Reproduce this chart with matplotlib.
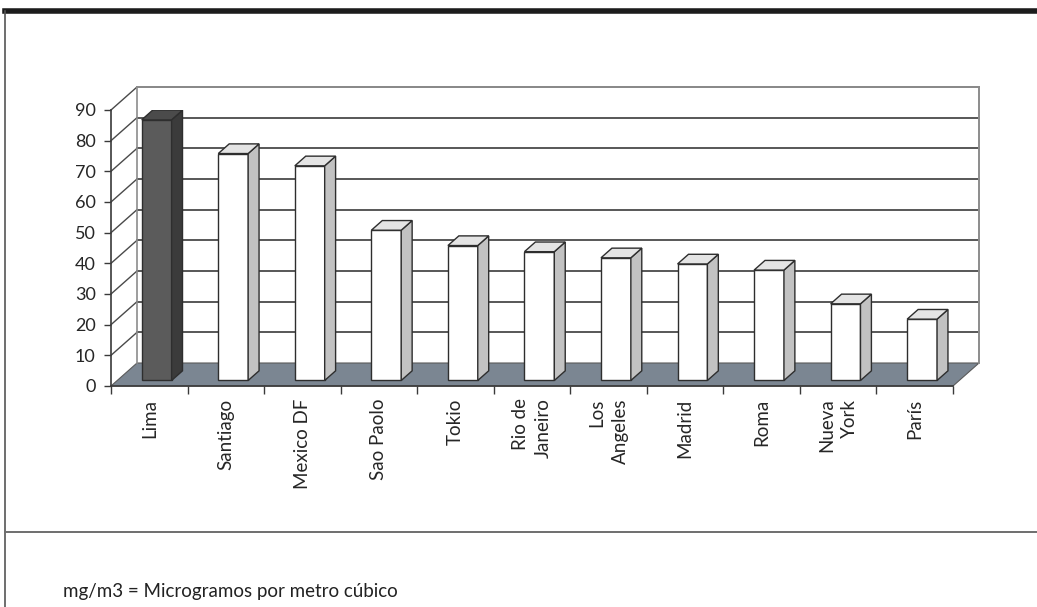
import matplotlib
matplotlib.use("Agg")
import matplotlib.pyplot as plt
from matplotlib.patches import Polygon
from matplotlib.lines import Line2D

# ---- data ----
cities = ["Lima", "Santiago", "Mexico DF", "Sao Paolo", "Tokio", "Rio de\nJaneiro",
          "Los\nAngeles", "Madrid", "Roma", "Nueva\nYork", "París"]
values = [85, 74, 70, 49, 44, 42, 40, 38, 36, 25, 20]
yticks = [0, 10, 20, 30, 40, 50, 60, 70, 80, 90]
note = "mg/m3 = Microgramos por metro cúbico"

FONT = ["Lato", "DejaVu Sans"]
plt.rcParams["font.family"] = FONT

W, H = 1037, 607
fig = plt.figure(figsize=(W / 100, H / 100), dpi=100)

# axes placement (front plane of the 3-D box)
x0, x1 = 111, 953
y0, y1 = 386, 110
ax = fig.add_axes([x0 / W, (H - y0) / H, (x1 - x0) / W, (y0 - y1) / H])
n = len(cities)
ymax = 90
ax.set_xlim(0, n)
ax.set_ylim(0, ymax)
ax.set_facecolor("none")

# depth offsets in data units
DX = 26 / (x1 - x0) * n
DY = 23 / (y0 - y1) * ymax

grid_c = "#4a4a4a"
wall_c = "#8c8c8c"
floor_c = "#7b8692"

# floor
ax.add_patch(Polygon([(0, 0), (n, 0), (n + DX, DY), (DX, DY)], closed=True,
                     facecolor=floor_c, edgecolor="#5a5a5a", lw=0.8, zorder=1,
                     clip_on=False))

# back wall gridlines and side-wall diagonals
for t in yticks[1:]:
    ax.add_line(Line2D([DX, n + DX], [t + DY, t + DY], color=grid_c, lw=1.3,
                       zorder=2, clip_on=False))
    ax.add_line(Line2D([0, DX], [t, t + DY], color=grid_c, lw=1.0, zorder=2,
                       clip_on=False))
# back wall border
ax.add_line(Line2D([DX, DX], [DY, ymax + DY], color=wall_c, lw=1.2, zorder=2, clip_on=False))
ax.add_line(Line2D([n + DX, n + DX], [DY, ymax + DY], color=wall_c, lw=1.4, zorder=2, clip_on=False))
ax.add_line(Line2D([DX, n + DX], [ymax + DY, ymax + DY], color=wall_c, lw=1.4, zorder=2, clip_on=False))

# bars
f0 = 0.24      # depth position of bar front face
fd = 0.42      # bar depth fraction
left = 0.32    # bar left within slot
bw = 0.39      # bar width
for i, v in enumerate(values):
    if i == 0:
        front, side, top = "#5b5b5b", "#3b3b3b", "#4b4b4b"
    else:
        front, side, top = "#ffffff", "#c2c2c2", "#e4e4e4"
    bx = i + left + f0 * DX
    by = f0 * DY
    ox, oy = fd * DX, fd * DY
    ec = "#2e2e2e"
    ax.add_patch(Polygon([(bx, by), (bx + bw, by), (bx + bw, by + v), (bx, by + v)],
                         facecolor=front, edgecolor=ec, lw=1.0, zorder=5))
    ax.add_patch(Polygon([(bx + bw, by), (bx + bw + ox, by + oy),
                          (bx + bw + ox, by + v + oy), (bx + bw, by + v)],
                         facecolor=side, edgecolor=ec, lw=1.0, zorder=5))
    ax.add_patch(Polygon([(bx, by + v), (bx + bw, by + v), (bx + bw + ox, by + v + oy),
                          (bx + ox, by + v + oy)],
                         facecolor=top, edgecolor=ec, lw=1.0, zorder=5))

# axes styling
for s in ["top", "right"]:
    ax.spines[s].set_visible(False)
ax.spines["left"].set_color("#3a3a3a")
ax.spines["bottom"].set_color("#3a3a3a")
ax.spines["left"].set_linewidth(1.2)
ax.spines["bottom"].set_linewidth(1.2)
ax.spines["left"].set_zorder(3)
ax.spines["bottom"].set_zorder(3)

txt_c = "#262626"
ax.set_yticks(yticks)
ax.set_yticklabels([str(t) for t in yticks], fontsize=13, color=txt_c)
ax.tick_params(axis="y", direction="out", length=5, width=1, color="#3a3a3a", pad=6)

ax.set_xticks(range(n + 1))
ax.set_xticklabels([""] * (n + 1))
ax.tick_params(axis="x", which="major", direction="out", length=6, width=1, color="#3a3a3a")
ax.set_xticks([i + 0.5 for i in range(n)], minor=True)
ax.set_xticklabels(cities, minor=True, rotation=90, fontsize=13.5, color=txt_c,
                   va="top", ha="center", multialignment="right", linespacing=1.45)
ax.tick_params(axis="x", which="minor", length=0, pad=9)

# frame decorations (figure coordinates)
fig.add_artist(Line2D([5 / W, 1.0], [1 - 10.5 / H, 1 - 10.5 / H], color="#1c1c1c", lw=4.0))
fig.add_artist(Line2D([5 / W, 5 / W], [0, 1 - 10.5 / H], color="#555555", lw=1.2))
fig.add_artist(Line2D([5 / W, 1.0], [1 - 532 / H, 1 - 532 / H], color="#6e6e6e", lw=1.4))
fig.text(63 / W, 1 - 591 / H, note, fontsize=13.5, color="#222222", va="center", ha="left")

fig.savefig("out.png", dpi=100, facecolor="white")
